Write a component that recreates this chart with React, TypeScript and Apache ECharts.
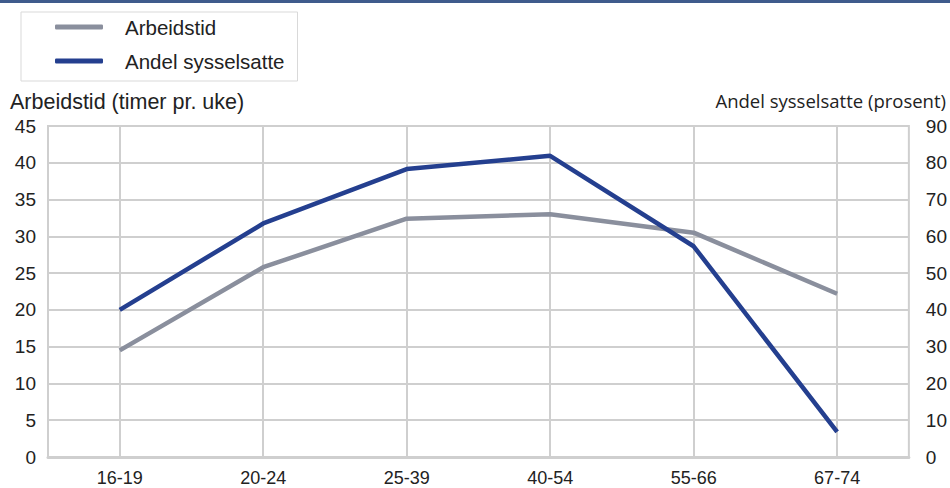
import React, { useEffect, useRef } from "react";
import * as echarts from "echarts";

const categories = ["16-19", "20-24", "25-39", "40-54", "55-66", "67-74"];
const arbeidstid = [14.5, 25.8, 32.4, 33.0, 30.5, 22.2];
const andelSysselsatte = [40.0, 63.5, 78.3, 81.9, 57.3, 6.8];
const seriesNames = ["Arbeidstid", "Andel sysselsatte"];
const leftAxisName = "Arbeidstid (timer pr. uke)";
const rightAxisName = "Andel sysselsatte (prosent)";

const FONT = "'Liberation Sans', Arial, sans-serif";

export default function App() {
  const ref = useRef<HTMLDivElement>(null);
  useEffect(() => {
    if (!ref.current) return;
    const chart = echarts.init(ref.current, null, { renderer: "svg" });
    chart.setOption({
      animation: false,
      backgroundColor: "#ffffff",
      textStyle: { fontFamily: FONT },
      legend: {
        orient: "vertical",
        left: 21,
        top: 12,
        data: seriesNames,
        icon: "roundRect",
        itemWidth: 48,
        itemHeight: 5,
        itemGap: 12,
        padding: [4, 13, 9, 34],
        borderColor: "#d9d9d9",
        borderWidth: 1,
        textStyle: {
          fontSize: 20.5,
          color: "#222",
          lineHeight: 22,
          fontFamily: FONT,
          padding: [0, 0, 0, 17],
        },
      },
      graphic: [
        {
          type: "rect",
          shape: { x: 0, y: 0, width: 950, height: 3 },
          style: { fill: "#3f5b8c" },
        },
        {
          type: "text",
          left: 10,
          top: 91,
          style: { text: leftAxisName, fontSize: 21.5, fill: "#222", fontFamily: FONT },
        },
        {
          type: "text",
          right: 4,
          top: 91,
          style: { text: rightAxisName, fontSize: 18.5, fill: "#222", fontFamily: "'Open Sans', sans-serif" },
        },
      ],
      grid: {
        left: 48,
        right: 39,
        top: 126,
        bottom: 31,
        show: true,
        borderColor: "#cfcfcf",
        borderWidth: 2,
      },
      xAxis: {
        type: "category",
        data: categories,
        boundaryGap: true,
        axisLine: { show: true, lineStyle: { color: "#cfcfcf", width: 3 } },
        axisTick: { show: false, alignWithLabel: true },
        axisLabel: { fontSize: 18, color: "#222", margin: 12, fontFamily: FONT },
        splitLine: { show: true, alignWithLabel: true, lineStyle: { color: "#cfcfcf", width: 2 } },
      },
      yAxis: [
        {
          type: "value",
          min: 0,
          max: 45,
          interval: 5,
          axisLine: { show: false },
          axisTick: { show: false },
          axisLabel: { fontSize: 19, color: "#222", margin: 12, fontFamily: FONT, padding: [4, 0, 0, 0] },
          splitLine: { show: true, lineStyle: { color: "#cfcfcf", width: 2 } },
        },
        {
          type: "value",
          min: 0,
          max: 90,
          interval: 10,
          position: "right",
          axisLine: { show: false },
          axisTick: { show: false },
          axisLabel: { fontSize: 19, color: "#222", margin: 17, fontFamily: FONT, padding: [4, 0, 0, 0] },
          splitLine: { show: false },
        },
      ],
      series: [
        {
          name: seriesNames[0],
          type: "line",
          data: arbeidstid,
          yAxisIndex: 0,
          symbol: "none",
          lineStyle: { color: "#8a8f9d", width: 4.5 },
          itemStyle: { color: "#8a8f9d" },
        },
        {
          name: seriesNames[1],
          type: "line",
          data: andelSysselsatte,
          yAxisIndex: 1,
          symbol: "none",
          lineStyle: { color: "#243f8f", width: 4.5 },
          itemStyle: { color: "#243f8f" },
        },
      ],
    });
    return () => chart.dispose();
  }, []);
  return (
    <div
      ref={ref}
      style={{ position: "fixed", left: 0, top: 0, width: 950, height: 488 }}
    />
  );
}
